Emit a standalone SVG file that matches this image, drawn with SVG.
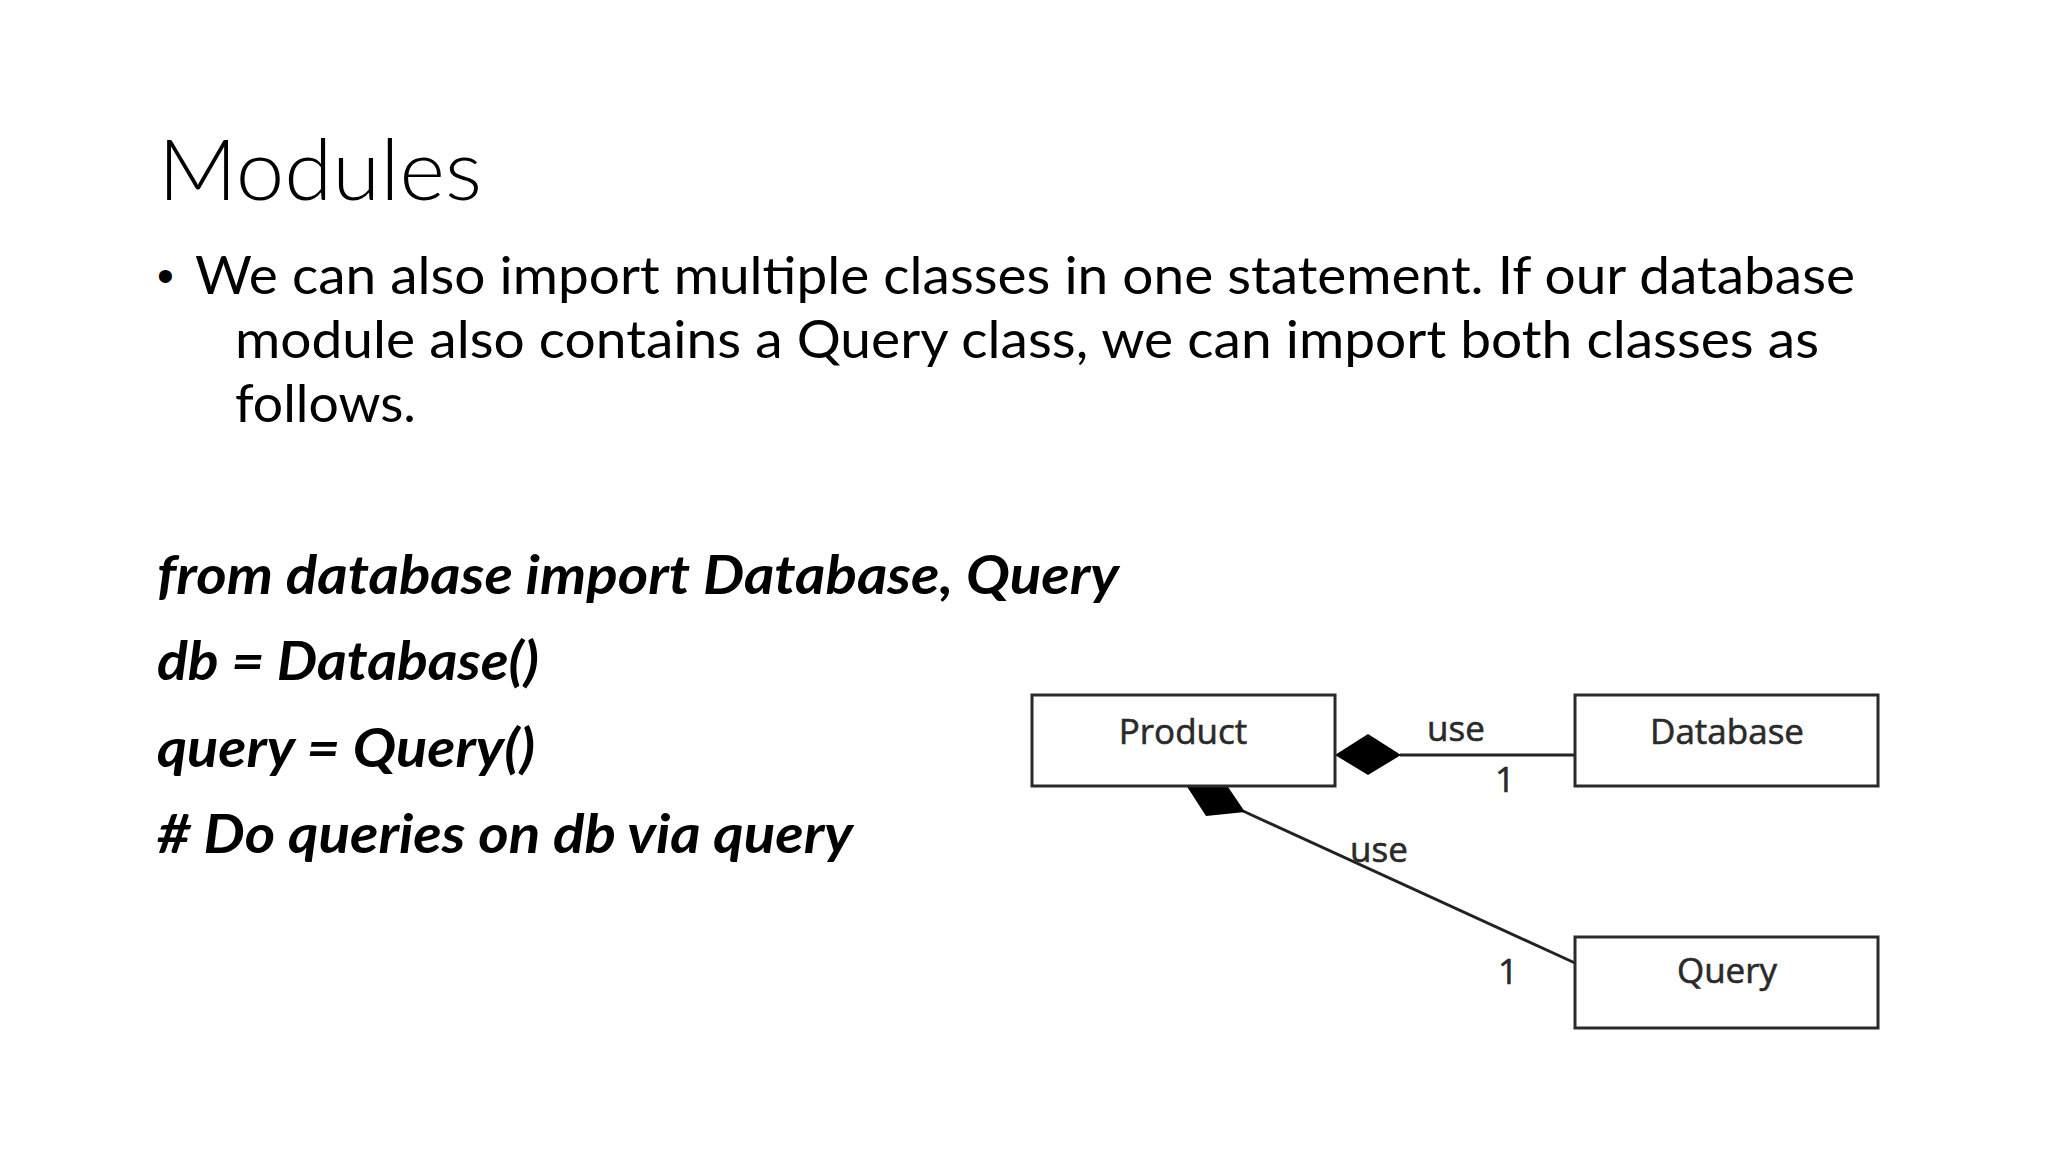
<svg xmlns="http://www.w3.org/2000/svg" width="2048" height="1152" viewBox="0 0 2048 1152">
<style>
.title{font-family:Lato,"Liberation Sans",sans-serif;font-weight:300;font-size:84px;fill:#000}
.body{font-family:Lato,"Liberation Sans",sans-serif;font-size:53px;fill:#000}
.code{font-family:Lato,"Liberation Sans",sans-serif;font-weight:bold;font-style:italic;font-size:53px;fill:#000}
.box{fill:#fff;stroke:#2a2a2a;stroke-width:3}
.lbl{font-family:"Open Sans","DejaVu Sans",sans-serif;font-size:35px;fill:#2a2a2a;stroke:#2a2a2a;stroke-width:0.6;text-anchor:middle}
.conn{stroke:#222;stroke-width:3;fill:none}
.dia{fill:#000;stroke:none}
</style>
<rect width="2048" height="1152" fill="#fff"/>
<text class="title" x="158" y="200" textLength="324" lengthAdjust="spacingAndGlyphs">Modules</text>
<text x="157" y="292" font-family="'Liberation Sans',sans-serif" font-size="48" fill="#000">•</text>
<text class="body" x="195" y="294" textLength="1660" lengthAdjust="spacingAndGlyphs">We can also import multiple classes in one statement. If our database</text>
<text class="body" x="235" y="358" textLength="1584" lengthAdjust="spacingAndGlyphs">module also contains a Query class, we can import both classes as</text>
<text class="body" x="235" y="422" textLength="181" lengthAdjust="spacingAndGlyphs">follows.</text>
<text class="code" x="157" y="594" textLength="962" lengthAdjust="spacingAndGlyphs">from database import Database, Query</text>
<text class="code" x="157" y="680" textLength="382" lengthAdjust="spacingAndGlyphs">db = Database()</text>
<text class="code" x="157" y="767" textLength="378" lengthAdjust="spacingAndGlyphs">query = Query()</text>
<text class="code" x="157" y="853" textLength="696" lengthAdjust="spacingAndGlyphs"># Do queries on db via query</text>
<g id="connectors">
<line class="conn" x1="1400" y1="755" x2="1575" y2="755"/>
<polygon class="dia" points="1335,755 1368,734 1401,755 1368,775"/>
<line class="conn" x1="1243" y1="811" x2="1575" y2="963"/>
<polygon class="dia" points="1186,785 1224,781 1245,812 1206,816"/>
<text class="lbl" x="1456" y="741">use</text>
<text class="lbl" x="1505" y="792">1</text>
<text class="lbl" x="1379" y="862">use</text>
<text class="lbl" x="1508" y="984">1</text>
</g>
<g id="node-product">
<rect class="box" x="1032" y="695" width="303" height="91"/>
<text class="lbl" x="1183" y="744">Product</text>
</g>
<g id="node-database">
<rect class="box" x="1575" y="695" width="303" height="91"/>
<text class="lbl" x="1727" y="744">Database</text>
</g>
<g id="node-query">
<rect class="box" x="1575" y="937" width="303" height="91"/>
<text class="lbl" x="1727" y="983">Query</text>
</g>
</svg>
